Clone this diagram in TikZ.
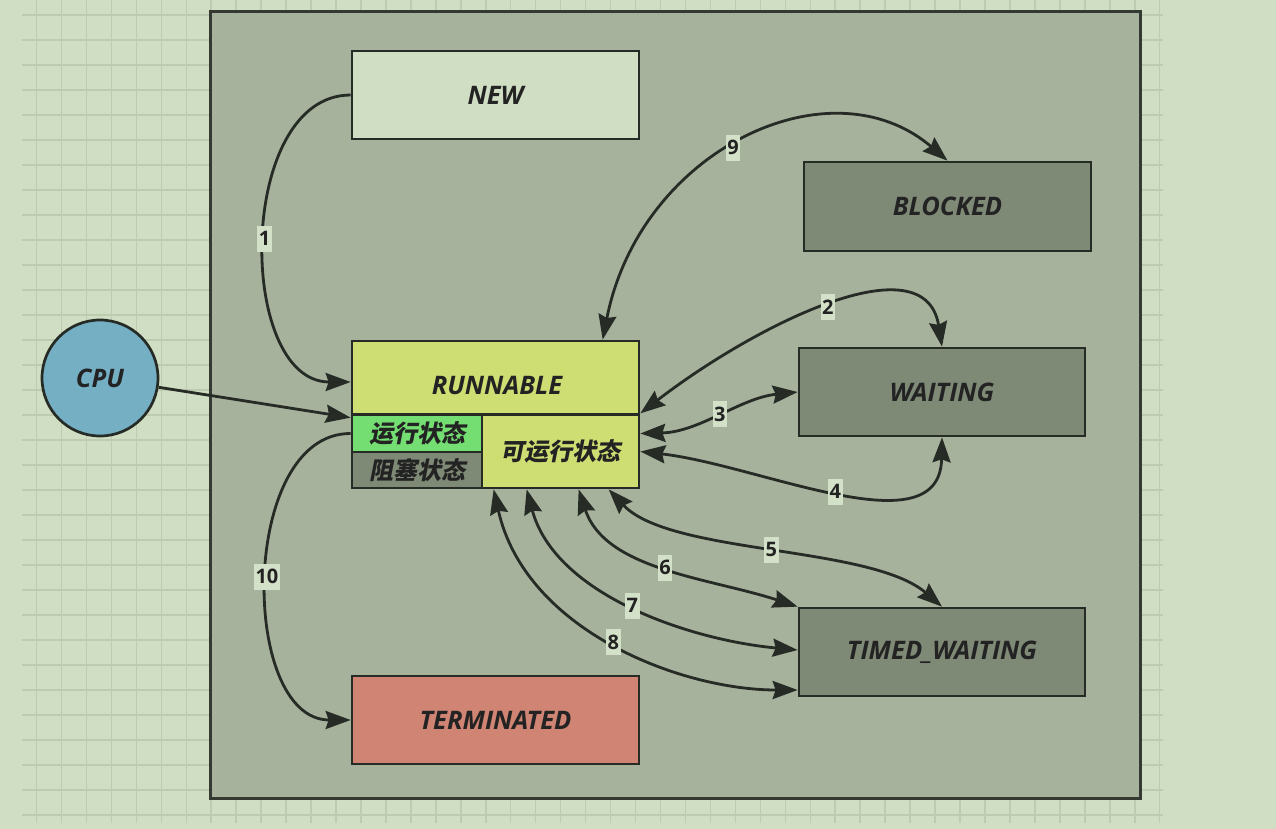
\documentclass[tikz,border=0pt]{standalone}
\usepackage{fontspec}
\setmainfont{Open Sans}
\newfontfamily\cjk[FakeSlant=0.2]{Noto Sans CJK SC}
\usetikzlibrary{arrows.meta}
\definecolor{bgc}{HTML}{D0DFC4}
\definecolor{gridc}{HTML}{BDCCB1}
\definecolor{framec}{HTML}{A6B29C}
\definecolor{frameline}{HTML}{343932}
\definecolor{edge}{HTML}{262B25}
\definecolor{newc}{HTML}{D0DFC4}
\definecolor{darkc}{HTML}{7E8976}
\definecolor{yel}{HTML}{CFDE72}
\definecolor{grn}{HTML}{74DE72}
\definecolor{term}{HTML}{D08474}
\definecolor{cpuc}{HTML}{74AFC4}
\definecolor{lblc}{HTML}{D3E1C8}
\definecolor{txt}{HTML}{232323}
\begin{document}
\begin{tikzpicture}[x=1pt,y=-1pt,
  box/.style={draw=edge, line width=2.7pt, rectangle, inner sep=0pt},
  st/.style={font=\bfseries\itshape\fontsize{25.5}{30}\selectfont, text=txt},
  cj/.style={font=\cjk\bfseries\fontsize{24}{28}\selectfont, text=txt},
  lbl/.style={fill=lblc, font=\bfseries\fontsize{20}{24}\selectfont, text=txt, inner xsep=1.5pt, inner ysep=0pt, minimum height=26pt},
  conn/.style={draw=edge, line width=2.8pt},
  tipst/.tip={Stealth[length=25pt,width=18pt,inset=3pt]},
  bi/.style={conn, tipst-tipst},
  uni/.style={conn, -tipst}
]
\useasboundingbox (0,0) rectangle (1276,829);
\fill[bgc] (0,0) rectangle (1276,829);
% grid
\foreach \i in {0,...,32} {\draw[gridc, line width=1.5pt] (22,15+25*\i) -- (1163,15+25*\i);}
\foreach \i in {0,...,45} {\draw[gridc, line width=1.5pt] (36.5+24.96*\i,0) -- (36.5+24.96*\i,823);}
% frame
\node[draw=frameline, line width=3pt, fill=framec, rectangle, inner sep=0pt, minimum width=930pt, minimum height=786pt] (frame) at (675,405) {};
% nodes
\node[box, fill=newc, minimum width=287pt, minimum height=88pt, st] (new) at (495.5,95) {NEW};
\node[box, fill=darkc, minimum width=287pt, minimum height=89pt, st] (blocked) at (947.5,206.5) {BLOCKED};
\node[box, fill=yel, minimum width=287pt, minimum height=73pt] (runtop) at (495.5,377.5) {};
\node[st] (runtxt) at (497,385) {RUNNABLE};
\node[box, fill=grn, minimum width=130pt, minimum height=37pt, cj] (run) at (417,433.5) {运行状态};
\node[box, fill=darkc, minimum width=130pt, minimum height=36pt, cj] (blk) at (417,470) {阻塞状态};
\node[box, fill=yel, minimum width=157pt, minimum height=73pt, cj] (ready) at (560.5,451.5) {可运行状态};
\node[box, fill=darkc, minimum width=286pt, minimum height=88pt, st] (waiting) at (942,392) {WAITING};
\node[box, fill=darkc, minimum width=286pt, minimum height=88pt, st] (tw) at (942,652) {TIMED\_WAITING};
\node[box, fill=term, minimum width=287pt, minimum height=88pt, st] (term) at (495.5,720) {TERMINATED};
\node[circle, draw=edge, line width=2.7pt, fill=cpuc, minimum size=116pt, inner sep=0pt, st] (cpu) at (100,378) {CPU};
% edges
\draw[uni] (new.west) .. controls (236,95) and (236,382) .. ([yshift=-4.5pt]runtop.west) node[lbl,pos=.5] {1};
\draw[uni] (run.west) .. controls (239,433) and (239,720) .. (term.west) node[lbl,pos=.5] {10};
\draw[uni] (cpu) -- ([yshift=-4pt]run.north west);
\draw[bi] ([xshift=252pt]runtop.north west) .. controls (640,150) and (830,60) .. (blocked.north) node[lbl,pos=.47] {9};
\draw[bi] ([yshift=2pt]runtop.south east) .. controls (755,325) and (925,240) .. (waiting.north) node[lbl,pos=.5] {2};
\draw[bi] ([yshift=18pt]ready.east) .. controls (700,432) and (740,398) .. (waiting.west) node[lbl,pos=.5] {3};
\draw[bi] (ready.east) .. controls (760,465) and (940,550) .. (waiting.south) node[lbl,pos=.5] {4};
\draw[bi] ([xshift=128pt]ready.south west) .. controls (670,555) and (870,545) .. (tw.north) node[lbl,pos=.5] {5};
\draw[bi] ([xshift=98pt]ready.south west) .. controls (605,570) and (710,578) .. (tw.north west) node[lbl,pos=.5] {6};
\draw[bi] ([xshift=46pt]ready.south west) .. controls (555,595) and (690,640) .. ([yshift=2pt]tw.west) node[lbl,pos=.5] {7};
\draw[bi] ([xshift=13pt]ready.south west) .. controls (525,630) and (680,690) .. ([yshift=-38pt]tw.west) node[lbl,pos=.5] {8};
\end{tikzpicture}
\end{document}
